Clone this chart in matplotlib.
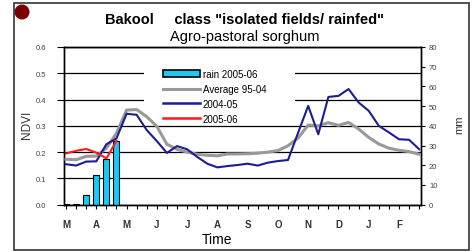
import matplotlib.pyplot as plt
from matplotlib.patches import Rectangle, Ellipse, Patch
from matplotlib.lines import Line2D

plt.rcParams['font.family'] = ['Liberation Sans', 'DejaVu Sans']

# dekads from March (1st dekad) to February (3rd dekad)
dekads = list(range(36))
months = ["M", "A", "M", "J", "J", "A", "S", "O", "N", "D", "J", "F"]

# NDVI, average 1995-2004
avg_9504 = [0.173, 0.171, 0.184, 0.185, 0.215, 0.272, 0.360, 0.362, 0.335, 0.298,
            0.230, 0.211, 0.200, 0.192, 0.188, 0.186, 0.193, 0.193, 0.194, 0.196,
            0.200, 0.206, 0.224, 0.254, 0.303, 0.300, 0.312, 0.302, 0.313, 0.288,
            0.256, 0.231, 0.215, 0.207, 0.202, 0.192]
# NDVI 2004-05
ndvi_0405 = [0.154, 0.149, 0.164, 0.165, 0.230, 0.252, 0.346, 0.342, 0.284, 0.242,
             0.197, 0.223, 0.211, 0.182, 0.156, 0.142, 0.147, 0.151, 0.156, 0.149,
             0.160, 0.166, 0.170, 0.274, 0.376, 0.268, 0.410, 0.414, 0.440, 0.389,
             0.357, 0.300, 0.275, 0.249, 0.247, 0.211]
# NDVI 2005-06 (so far)
ndvi_0506 = [0.195, 0.205, 0.212, 0.198, 0.176, 0.243]
# rain 2005-06 in mm
rain_0506 = [0.5, 0.6, 4.7, 15.2, 23.3, 32.5]

W, H = 476, 253
fig = plt.figure(figsize=(W / 100, H / 100), dpi=100)
ax = fig.add_axes([64 / W, 1 - 205.7 / H, 356.7 / W, 157.7 / H])
ax2 = ax.twinx()

# left axis: NDVI
ax.set_xlim(-0.2, 35.15)
ax.set_ylim(0, 0.6)
ax.set_yticks([0, 0.1, 0.2, 0.3, 0.4, 0.5, 0.6])
ax.set_yticklabels(["0.0", "0.1", "0.2", "0.3", "0.4", "0.5", "0.6"])
ax.grid(axis="y", color="black", lw=0.9)
ax.set_axisbelow(True)
ax.tick_params(axis="y", length=5, width=0.8, pad=8, labelsize=5.5, labelcolor="#444444")
ax.set_xticks(dekads)
ax.set_xticklabels([months[i // 3] if i % 3 == 0 else "" for i in dekads])
ax.tick_params(axis="x", length=3, width=0.8, pad=7, labelsize=7)
for lab in ax.get_xticklabels():
    lab.set_fontweight("bold")
    lab.set_color("#333333")

# right axis: rain
ax2.set_ylim(0, 80)
ax2.set_yticks(range(0, 81, 10))
ax2.tick_params(axis="y", length=3, width=0.8, pad=3, labelsize=5.5, labelcolor="#444444")
for a in (ax, ax2):
    for s in a.spines.values():
        s.set_color("black")
        s.set_linewidth(1)

ax2.bar(dekads[:6], rain_0506, width=0.6, color="#1ec8f0", edgecolor="black", lw=0.8, zorder=2)

# white legend background
ax2.add_patch(Rectangle((0.224, 0.518), 0.424, 0.368, transform=ax2.transAxes,
                        facecolor="white", edgecolor="none", zorder=1))

c_avg, c_0405, c_0506 = "#999999", "#1c1c96", "#ff1a1a"
ax2.plot(dekads, avg_9504, color=c_avg, lw=2.2, transform=ax.transData, zorder=3)
ax2.plot(dekads, ndvi_0405, color=c_0405, lw=1.5, transform=ax.transData, zorder=4)
ax2.plot(dekads[:6], ndvi_0506, color=c_0506, lw=1.5, transform=ax.transData, zorder=5)

handles = [Patch(facecolor="#1ec8f0", edgecolor="black", lw=1.2),
           Line2D([], [], color=c_avg, lw=2.2),
           Line2D([], [], color=c_0405, lw=1.8),
           Line2D([], [], color=c_0506, lw=1.8)]
labels = ["rain 2005-06", "Average 95-04", "2004-05", "2005-06"]
ax2.legend(handles, labels, loc="upper left", bbox_to_anchor=(0.2775, 0.86),
           frameon=False, fontsize=7, handlelength=3.8, handletextpad=0.3,
           labelspacing=0.5, borderpad=0, borderaxespad=0)

# texts
fig.text(245 / W, 1 - 20 / H, 'Bakool     class "isolated fields/ rainfed"',
         ha="center", va="center", fontsize=10.5, fontweight="bold")
fig.text(245 / W, 1 - 37.5 / H, "Agro-pastoral sorghum", ha="center", va="center", fontsize=10.5)
fig.text(27 / W, 1 - 125 / H, "NDVI", rotation=90, ha="center", va="center",
         fontsize=8.5, color="#333333")
fig.text(459 / W, 1 - 125 / H, "mm", rotation=90, ha="center", va="center",
         fontsize=8, color="#333333")
fig.text(217 / W, 1 - 240 / H, "Time", ha="center", va="center", fontsize=10)

# outer frame and dot
fig.add_artist(Rectangle((14 / W, 1 - 251 / H), 455 / W, 247 / H, transform=fig.transFigure,
                         fill=False, edgecolor="#333333", lw=1.2))
fig.add_artist(Ellipse((22 / W, 1 - 13 / H), 15 / W, 15 / H, transform=fig.transFigure,
                       facecolor="#7a0000", edgecolor="none"))

fig.savefig("out.png", dpi=100)
